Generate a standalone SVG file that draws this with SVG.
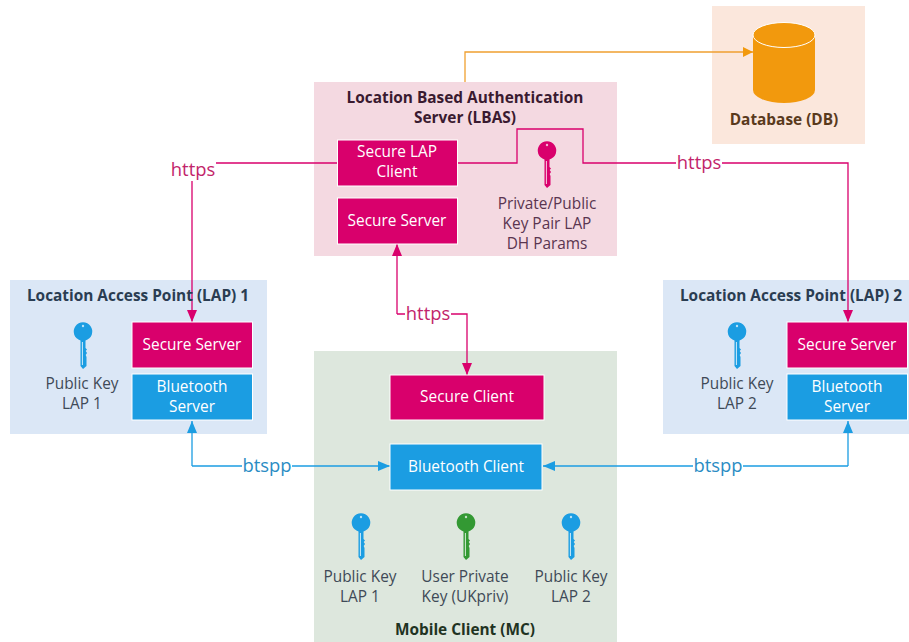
<svg xmlns="http://www.w3.org/2000/svg" width="909" height="642" viewBox="0 0 909 642">
<style>
text{font-family:"Open Sans","Noto Sans",sans-serif;text-anchor:middle}
.t{font-size:15.4px;font-weight:700;fill:#222b33}
.l{font-size:15.4px;fill:#3f4a57}
.w{font-size:15.4px;fill:#fff}
.c{font-size:18.4px}
.box{stroke:#fff;stroke-width:1}
.pink{fill:#d9006c}.blue{fill:#1b9de2}.green{fill:#339933}.orange{fill:#f2990d}
.lp{fill:none;stroke:#d9006c;stroke-width:1.3}
.lb{fill:none;stroke:#1b9de2;stroke-width:1.3}
.lo{fill:none;stroke:#f0a030;stroke-width:1.3}
</style>
<defs>
<marker id="ap" markerUnits="userSpaceOnUse" markerWidth="14" markerHeight="12" refX="12" refY="5" orient="auto"><path d="M0 0L12 5L0 10Z" fill="#d9006c"/></marker>
<marker id="ab" markerUnits="userSpaceOnUse" markerWidth="14" markerHeight="12" refX="12" refY="5" orient="auto"><path d="M0 0L12 5L0 10Z" fill="#1b9de2"/></marker>
<marker id="ao" markerUnits="userSpaceOnUse" markerWidth="12" markerHeight="12" refX="10" refY="5" orient="auto"><path d="M0 0L10 5L0 10Z" fill="#f2990d"/></marker>
<symbol id="key" overflow="visible"><path d="M-2.500 16.500A9.300 9.300 0 1 1 2.500 16.500V24L4 25.500L2.700 27L4 29L2.700 31L3.500 33V42L0 45L-2.500 42Z"/><circle cx="0" cy="2" r="1.200" fill="#fff" opacity=".7"/><path d="M-.6 18V41" stroke="#fff" stroke-width="1" opacity=".8" fill="none"/></symbol>
</defs>
<rect width="909" height="642" fill="#fff"/>
<g id="panel-db"><rect x="712" y="6" width="153" height="138" fill="#fbe7dc"/></g>
<g id="panel-lbas"><rect x="314" y="82" width="303" height="174" fill="#f4d9e1"/></g>
<g id="panel-lap1"><rect x="10" y="280" width="257" height="154" fill="#dbe7f6"/></g>
<g id="panel-lap2"><rect x="663" y="280" width="246" height="154" fill="#dbe7f6"/></g>
<g id="panel-mc"><rect x="314" y="351" width="303" height="291" fill="#dde7dd"/></g>
<g id="connectors">
<path class="lo" d="M465 82V52H753" marker-end="url(#ao)"/>
<path class="lp" d="M338 163H192V322" marker-end="url(#ap)"/>
<path class="lp" d="M457 163H517V129H583V163H848V322" marker-end="url(#ap)"/>
<path class="lp" d="M397 314V244" marker-end="url(#ap)"/>
<path class="lp" d="M397 314H467V375" marker-end="url(#ap)"/>
<path class="lb" d="M192 466V421" marker-end="url(#ab)"/>
<path class="lb" d="M192 466H390" marker-end="url(#ab)"/>
<path class="lb" d="M848 466V421" marker-end="url(#ab)"/>
<path class="lb" d="M848 466H543" marker-end="url(#ab)"/>
<g class="c">
<rect x="170" y="159" width="46" height="22" fill="#fff"/><text x="193" y="176" fill="#c2246a">https</text>
<rect x="676" y="152" width="46" height="22" fill="#fff"/><text x="699" y="169" fill="#c2246a">https</text>
<rect x="405" y="303" width="46" height="22" fill="#fff"/><text x="428" y="320" fill="#c2246a">https</text>
<rect x="242" y="455" width="50" height="22" fill="#fff"/><text x="267" y="472" fill="#2a8cc4">btspp</text>
<rect x="693" y="455" width="50" height="22" fill="#fff"/><text x="718" y="472" fill="#2a8cc4">btspp</text>
</g>
</g>
<g id="db">
<path class="orange" d="M753 36V90A31 13 0 0 0 815 90V36Z"/>
<ellipse class="orange" cx="784" cy="35" rx="31" ry="12.500" stroke="#fff" stroke-width="1"/>
<text class="t" x="784" y="125" style="fill:#5a3a1c">Database (DB)</text>
</g>
<g id="lbas"><text class="t" x="465" y="103" style="fill:#3a1a30">Location Based Authentication</text><text class="t" x="465" y="123" style="fill:#3a1a30">Server (LBAS)</text></g>
<g id="secure-lap-client"><rect class="pink box" x="337.500" y="140" width="120" height="46"/><text class="w" x="397" y="157">Secure LAP</text><text class="w" x="397" y="177">Client</text></g>
<g id="lbas-secure-server"><rect class="pink box" x="337.500" y="198" width="120" height="46"/><text class="w" x="397" y="226">Secure Server</text></g>
<g id="lbas-key"><use href="#key" x="547" y="143" class="pink"/><text class="l" x="547" y="209" style="fill:#5a3550">Private/Public</text><text class="l" x="547" y="229" style="fill:#5a3550">Key Pair LAP</text><text class="l" x="547" y="249" style="fill:#5a3550">DH Params</text></g>
<g id="lap1"><text class="t" x="138" y="301" style="fill:#2a3d52">Location Access Point (LAP) 1</text><use href="#key" x="83" y="324" class="blue"/><text class="l" x="82" y="389">Public Key</text><text class="l" x="82" y="409">LAP 1</text></g>
<g id="lap1-secure-server"><rect class="pink box" x="132" y="322" width="120.500" height="46"/><text class="w" x="192" y="350">Secure Server</text></g>
<g id="lap1-bluetooth-server"><rect class="blue box" x="132" y="374" width="120.500" height="46"/><text class="w" x="192" y="392">Bluetooth</text><text class="w" x="192" y="412">Server</text></g>
<g id="lap2"><text class="t" x="791" y="301" style="fill:#2a3d52">Location Access Point (LAP) 2</text><use href="#key" x="737" y="324" class="blue"/><text class="l" x="737" y="389">Public Key</text><text class="l" x="737" y="409">LAP 2</text></g>
<g id="lap2-secure-server"><rect class="pink box" x="787" y="322" width="120.500" height="46"/><text class="w" x="847" y="350">Secure Server</text></g>
<g id="lap2-bluetooth-server"><rect class="blue box" x="787" y="374" width="120.500" height="46"/><text class="w" x="847" y="392">Bluetooth</text><text class="w" x="847" y="412">Server</text></g>
<g id="secure-client"><rect class="pink box" x="390" y="375" width="154" height="45"/><text class="w" x="467" y="402">Secure Client</text></g>
<g id="bluetooth-client"><rect class="blue box" x="390" y="444" width="152" height="46"/><text class="w" x="466" y="472">Bluetooth Client</text></g>
<g id="mc">
<use href="#key" x="361" y="515" class="blue"/><text class="l" x="360" y="582">Public Key</text><text class="l" x="360" y="602">LAP 1</text>
<use href="#key" x="466" y="515" class="green"/><text class="l" x="465" y="582">User Private</text><text class="l" x="465" y="602">Key (UKpriv)</text>
<use href="#key" x="571" y="515" class="blue"/><text class="l" x="571" y="582">Public Key</text><text class="l" x="571" y="602">LAP 2</text>
<text class="t" x="465" y="635" style="fill:#1f3322">Mobile Client (MC)</text>
</g>
</svg>
